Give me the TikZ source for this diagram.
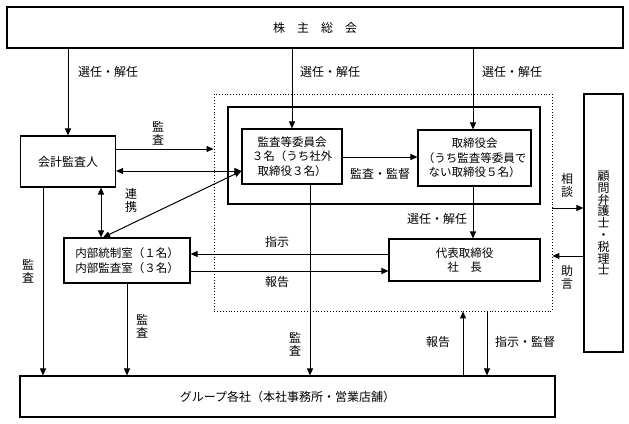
\documentclass[tikz,border=0pt]{standalone}
\usepackage{fontspec}
\newfontfamily\jp{Noto Sans CJK JP}
\usetikzlibrary{arrows.meta}
\newcommand\jpf{\jp\fontsize{11.5}{14.5}\selectfont}
\newcommand\jpl{\jp\fontsize{12}{14.5}\selectfont}
\newcommand\jpv{\jp\fontsize{12}{13}\selectfont}
\newcommand\jpk{\jp\fontsize{12}{11.8}\selectfont}
\begin{document}
\begin{tikzpicture}[x=1pt,y=-1pt,
  box/.style={draw,line width=1.1pt,inner sep=0pt,align=center,font=\jpf},
  lbl/.style={inner sep=0pt,align=center,font=\jpl},
  vlbl/.style={inner sep=0pt,align=center,font=\jpv},
  arr/.style={line width=1pt,-{Triangle[length=7pt,width=6pt]}},
  darr/.style={line width=1pt,{Triangle[length=7pt,width=6pt]}-{Triangle[length=7pt,width=6pt]}},
  ln/.style={line width=1pt}]
\useasboundingbox (0,0) rectangle (629,423);
% boxes
\node[box,font=\jpl,minimum width=616pt,minimum height=41pt] (top) at (315,27.5) {株　主　総　会};
\node[box,font=\jpl,minimum width=95pt,minimum height=51pt] (kaikei) at (68,161.5) {会計監査人};
\node[draw,dotted,line width=0.9pt,minimum width=338pt,minimum height=217pt,inner sep=0pt] (dot) at (383,202.5) {};
\node[draw,line width=1.1pt,minimum width=312pt,minimum height=97pt,inner sep=0pt] (inner) at (384,155.5) {};
\node[box,minimum width=100pt,minimum height=55pt] (kansa) at (292,156.5) {監査等委員会\\３名（うち社外\\取締役３名）};
\node[box,minimum width=113pt,minimum height=56pt] (tori) at (474.5,158) {取締役会\\（うち監査等委員で\\ない取締役５名）};
\node[box,minimum width=151pt,minimum height=42pt] (daihyo) at (464.5,260) {代表取締役\\社　長\hspace*{0pt}};
\node[box,minimum width=126pt,minimum height=45pt] (naibu) at (127,260.5) {内部統制室（１名）\\内部監査室（３名）};
\node[box,minimum width=39pt,minimum height=258pt,font=\jpk] (komon) at (603.5,223) {顧\\問\\弁\\護\\士\\・\\税\\理\\士};
\node[box,font=\jpl,minimum width=535pt,minimum height=41pt] (group) at (287.5,396.5) {グループ各社（本社事務所・営業店舗）};
% helper coordinates
\coordinate (y149) at (0,149);
\coordinate (y171) at (0,171);
\coordinate (y157) at (0,157);
\coordinate (y208) at (0,208);
\coordinate (y254) at (0,254);
\coordinate (y256) at (0,256);
\coordinate (y271) at (0,271);
\coordinate (x43) at (43,0);
\coordinate (x101) at (101,0);
\coordinate (x103) at (103,0);
\coordinate (x310) at (310,0);
\coordinate (x463) at (463,0);
\coordinate (x487) at (487,0);
\coordinate (x473) at (473,0);
% top arrows
\draw[arr] (top.south -| kaikei.north) -- (kaikei.north);
\draw[arr] (top.south -| kansa.north) -- (kansa.north);
\draw[arr] (top.south -| x473) -- (tori.north -| x473);
% kaikei connections
\draw[arr] (kaikei.east |- y149) -- (dot.west |- y149);
\draw[darr] (kaikei.east |- y171) -- (kansa.west |- y171);
\draw[darr] (kaikei.south -| x101) -- (naibu.north -| x101);
\draw[darr] (naibu.north -| x103) -- (kansa.west |- y171);
\draw[arr] (kaikei.south -| x43) -- (group.north -| x43);
% inner
\draw[arr] (kansa.east |- y157) -- (tori.west |- y157);
\draw[arr] (tori.south -| x473) -- (daihyo.north -| x473);
\draw[arr] (daihyo.west |- y254) -- (naibu.east |- y254);
\draw[arr] (naibu.east |- y271) -- (daihyo.west |- y271);
\draw[arr] (dot.east |- y208) -- (komon.west |- y208);
\draw[arr] (komon.west |- y256) -- (dot.east |- y256);
% down to group
\draw[arr] (naibu.south) -- (group.north -| naibu.south);
\draw[arr] (kansa.south -| x310) -- (group.north -| x310);
\draw[arr] (group.north -| x463) -- (dot.south -| x463);
\draw[arr] (dot.south -| x487) -- (group.north -| x487);
% labels
\node[lbl,anchor=west] (l1) at (78,72) {選任・解任};
\node[lbl,anchor=west] (l2) at (300,72) {選任・解任};
\node[lbl,anchor=west] (l3) at (482,72) {選任・解任};
\node[vlbl] (l4) at (158,133.5) {監\\査};
\node[vlbl] (l5) at (131,200.5) {連\\携};
\node[lbl] (l6) at (380,174) {監査・監督};
\node[lbl] (l7) at (437,219) {選任・解任};
\node[lbl] (l8) at (277,242) {指示};
\node[lbl] (l9) at (277,282) {報告};
\node[vlbl] (l10) at (567,185) {相\\談};
\node[vlbl] (l11) at (567,277.5) {助\\言};
\node[vlbl] (l12) at (28,271.5) {監\\査};
\node[vlbl] (l13) at (142,326.5) {監\\査};
\node[vlbl] (l14) at (295,344) {監\\査};
\node[lbl] (l15) at (438,342) {報告};
\node[lbl,anchor=west] (l16) at (495,342) {指示・監督};
\end{tikzpicture}
\end{document}
